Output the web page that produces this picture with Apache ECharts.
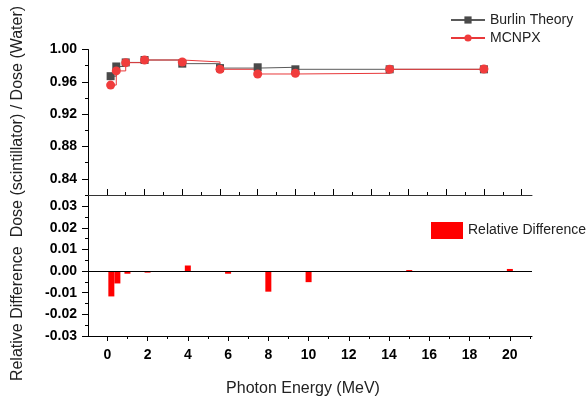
<!DOCTYPE html>
<html>
<head>
<meta charset="utf-8">
<script src="https://cdn.jsdelivr.net/npm/echarts@6/dist/echarts.min.js"></script>
<style>
  html, body { margin: 0; padding: 0; background: #fff; }
  #main { width: 588px; height: 398px; }
</style>
</head>
<body>
<div id="main"></div>
<script>
// photon energies (MeV)
const energies = [0.2, 0.5, 1, 2, 4, 6, 8, 10, 15, 20];
// dose ratio scintillator / water
const burlinTheory = [0.967, 0.979, 0.984, 0.987, 0.9825, 0.977, 0.978, 0.9755, 0.9755, 0.9755];
const mcnpx = [0.956, 0.9735, 0.9837, 0.987, 0.9846, 0.9755, 0.9697, 0.9706, 0.9755, 0.9759];
// relative difference
const relDiff = [-0.0117, -0.0057, -0.0012, -0.0007, 0.0026, -0.0012, -0.0095, -0.0051, 0.0005, 0.001];

// tick values
const xMajor = [0, 2, 4, 6, 8, 10, 12, 14, 16, 18, 20];
const xMinorBottom = [1, 3, 5, 7, 9, 11, 13, 15, 17, 19, 21];
const xMajorTop = [0, 2, 4, 6, 8, 10, 12, 14, 16, 18, 20, 22];
const xMinorTop = [1, 3, 5, 7, 9, 11, 13, 15, 17, 19, 21];
const ratioMajor = [0.84, 0.88, 0.92, 0.96, 1.00];
const ratioMinor = [0.82, 0.86, 0.90, 0.94, 0.98];
const diffMajor = [-0.03, -0.02, -0.01, 0, 0.01, 0.02, 0.03];
const diffMinor = [-0.025, -0.015, -0.005, 0.005, 0.015, 0.025];

const font = "'Liberation Sans', Arial, sans-serif";
const pairs = (ys) => energies.map((e, i) => [e, ys[i]]);

const labelStyle = {
  fontFamily: font,
  fontSize: 14,
  fontWeight: "bold",
  color: "#000",
};

const chart = echarts.init(document.getElementById("main"));

const option = {
  animation: false,
  backgroundColor: "#fff",
  grid: [
    { left: 88, right: 56, top: 49.5, height: 145.5 },
    { left: 88, right: 56, top: 195, height: 144 },
  ],
  legend: [
    {
      data: ["Burlin Theory", "MCNPX"],
      orient: "vertical",
      left: 445,
      top: 8,
      itemWidth: 34,
      itemHeight: 9,
      itemGap: 4,
      textStyle: { fontFamily: font, fontSize: 14, color: "#222" },
    },
    {
      data: ["Relative Difference"],
      left: 426,
      top: 217,
      icon: "rect",
      itemWidth: 32,
      itemHeight: 17,
      itemGap: 5,
      textStyle: { fontFamily: font, fontSize: 14, color: "#222" },
    },
  ],
  xAxis: [
    {
      gridIndex: 0,
      type: "value",
      position: "bottom",
      min: -1,
      max: 22.55,
      axisLine: { onZero: false, lineStyle: { color: "#333", width: 1 } },
      axisTick: { inside: true, length: 6, customValues: xMajorTop, lineStyle: { color: "#000" } },
      axisLabel: { show: false },
      splitLine: { show: false },
    },
    {
      gridIndex: 0,
      type: "value",
      position: "bottom",
      min: -1,
      max: 22.55,
      axisLine: { show: false, onZero: false },
      axisTick: { inside: true, length: 3, customValues: xMinorTop, lineStyle: { color: "#000" } },
      axisLabel: { show: false },
      splitLine: { show: false },
    },
    {
      gridIndex: 1,
      type: "value",
      position: "bottom",
      min: -0.96,
      max: 21.1,
      axisLine: { onZero: false, lineStyle: { color: "#000", width: 1 } },
      axisTick: { length: 5, customValues: xMajor, lineStyle: { color: "#000" } },
      axisLabel: Object.assign({ customValues: xMajor, margin: 12 }, labelStyle),
      splitLine: { show: false },
      name: "Photon Energy (MeV)",
      nameLocation: "middle",
      nameGap: 45,
      nameTextStyle: { fontFamily: font, fontSize: 16, color: "#222", padding: [0, 14, 0, 0] },
    },
    {
      gridIndex: 1,
      type: "value",
      position: "bottom",
      min: -0.96,
      max: 21.1,
      axisLine: { show: false, onZero: false },
      axisTick: { length: 3, customValues: xMinorBottom, lineStyle: { color: "#000" } },
      axisLabel: { show: false },
      splitLine: { show: false },
    },
  ],
  yAxis: [
    {
      gridIndex: 0,
      type: "value",
      position: "left",
      min: 0.82,
      max: 1.0,
      axisLine: { show: true, onZero: false, lineStyle: { color: "#000", width: 1 } },
      axisTick: { show: true, length: 6, customValues: ratioMajor, lineStyle: { color: "#000" } },
      axisLabel: Object.assign({ customValues: ratioMajor, margin: 11, formatter: (v) => v.toFixed(2) }, labelStyle),
      splitLine: { show: false },
    },
    {
      gridIndex: 0,
      type: "value",
      position: "left",
      min: 0.82,
      max: 1.0,
      axisLine: { show: false, onZero: false },
      axisTick: { show: true, length: 3, customValues: ratioMinor, lineStyle: { color: "#000" } },
      axisLabel: { show: false },
      splitLine: { show: false },
    },
    {
      gridIndex: 1,
      type: "value",
      position: "left",
      min: -0.03,
      max: 0.0352,
      axisLine: { show: true, onZero: false, lineStyle: { color: "#000", width: 1 } },
      axisTick: { show: true, length: 6, customValues: diffMajor, lineStyle: { color: "#000" } },
      axisLabel: Object.assign({ customValues: diffMajor, margin: 11, formatter: (v) => v.toFixed(2) }, labelStyle),
      splitLine: { show: false },
    },
    {
      gridIndex: 1,
      type: "value",
      position: "left",
      min: -0.03,
      max: 0.0352,
      axisLine: { show: false, onZero: false },
      axisTick: { show: true, length: 3, customValues: diffMinor, lineStyle: { color: "#000" } },
      axisLabel: { show: false },
      splitLine: { show: false },
    },
  ],
  graphic: [
    {
      type: "text",
      x: 18,
      y: 193.5,
      rotation: Math.PI / 2,
      style: {
        text: "Relative Difference  Dose (scintillator) / Dose (Water)",
        font: "16px " + font,
        fill: "#222",
        align: "center",
        verticalAlign: "middle",
      },
    },
  ],
  series: [
    {
      name: "Burlin Theory",
      type: "line",
      xAxisIndex: 0,
      yAxisIndex: 0,
      step: "end",
      data: pairs(burlinTheory),
      symbol: "rect",
      symbolSize: 8,
      itemStyle: { color: "#4a4a4a" },
      lineStyle: { color: "#5a5a5a", width: 1 },
    },
    {
      name: "MCNPX",
      type: "line",
      xAxisIndex: 0,
      yAxisIndex: 0,
      step: "end",
      data: pairs(mcnpx),
      symbol: "circle",
      symbolSize: 9,
      itemStyle: { color: "#f03c3c" },
      lineStyle: { color: "#e8383a", width: 1 },
    },
    {
      name: "Relative Difference",
      type: "bar",
      xAxisIndex: 2,
      yAxisIndex: 2,
      barWidth: 6,
      data: pairs(relDiff),
      itemStyle: { color: "#ff0000" },
      markLine: {
        silent: true,
        symbol: "none",
        label: { show: false },
        lineStyle: { color: "#000", type: "solid", width: 1 },
        data: [{ yAxis: 0 }],
      },
    },
  ],
};

chart.setOption(option);
</script>
</body>
</html>
